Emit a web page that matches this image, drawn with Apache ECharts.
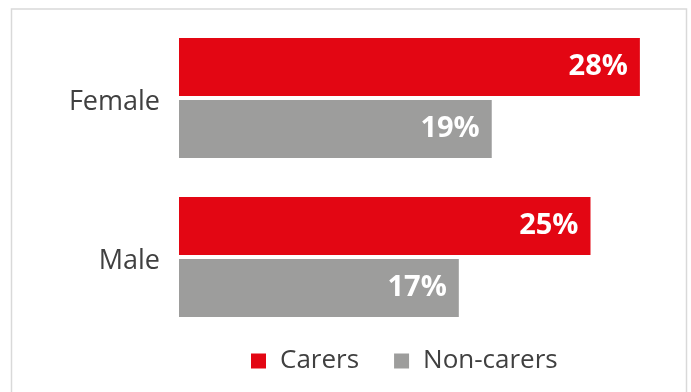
<!DOCTYPE html>
<html>
<head>
<meta charset="utf-8">
<script src="https://cdn.jsdelivr.net/npm/echarts@6/dist/echarts.min.js"></script>
<style>html,body{margin:0;padding:0;background:#fff}#c{width:691px;height:392px}</style>
</head>
<body>
<div id="c"></div>
<script>
var categories = ['Female', 'Male'];
var carers = [28, 25];
var nonCarers = [19, 17];
var seriesNames = ['Carers', 'Non-carers'];

var chart = echarts.init(document.getElementById('c'), null, {renderer: 'canvas'});
var font = '"Open Sans", "Noto Sans", sans-serif';
var labelOpt = {
  show: true, position: 'insideRight', distance: 12,
  formatter: '{c}%', color: '#ffffff', fontWeight: 'bold',
  fontSize: 29, fontFamily: font
};
chart.setOption({
  animation: false,
  graphic: [{
    type: 'rect', shape: {x: 11.5, y: 9, width: 675, height: 420},
    style: {fill: 'none', stroke: '#d9d9d9', lineWidth: 1.5}, silent: true
  }],
  legend: {
    data: seriesNames, left: 246, top: 343,
    itemWidth: 15, itemHeight: 15, itemGap: 35, icon: 'rect',
    textStyle: {fontSize: 26, color: '#404040', fontFamily: font, padding: [0, 0, 0, 9]}
  },
  grid: {left: 179, top: 18.5, width: 493.8, height: 318, containLabel: false},
  xAxis: {
    type: 'value', min: 0, max: 30, show: false
  },
  yAxis: {
    type: 'category', data: categories, inverse: true,
    axisLine: {show: false}, axisTick: {show: false},
    axisLabel: {
      margin: 19,
      formatter: function (v) { return '{a|' + v + '}'; },
      rich: {a: {fontSize: 27, color: '#404040', fontFamily: font, padding: [9, 0, 0, 0]}}
    }
  },
  series: [
    {name: seriesNames[0], type: 'bar', data: carers, barWidth: 58, barGap: '6.9%',
     itemStyle: {color: '#e30613'}, label: labelOpt},
    {name: seriesNames[1], type: 'bar', data: nonCarers, barWidth: 58, barGap: '6.9%',
     itemStyle: {color: '#9d9d9c'}, label: labelOpt}
  ]
});
</script>
</body>
</html>
